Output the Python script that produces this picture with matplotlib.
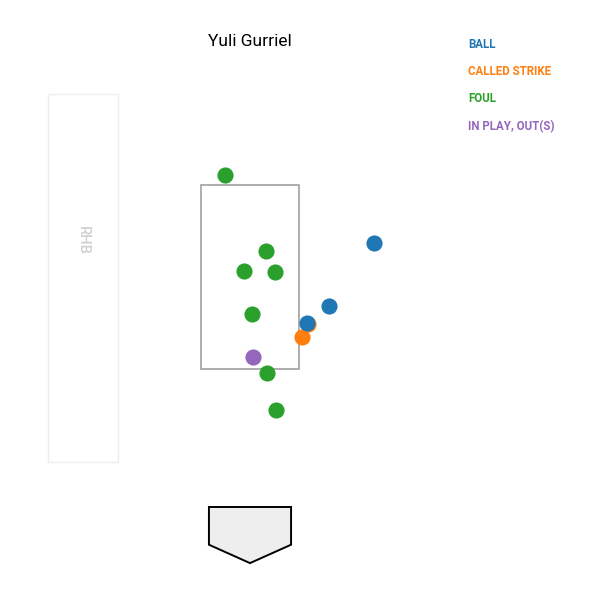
import matplotlib
matplotlib.use("Agg")
import matplotlib.pyplot as plt
from matplotlib.patches import Rectangle, Polygon

plt.rcParams['font.family'] = ['Roboto', 'DejaVu Sans']

batter = "Yuli Gurriel"
stand = "RHB"

# pitch locations (feet): plate_x, plate_z
descriptions = ["BALL", "CALLED STRIKE", "FOUL", "IN PLAY, OUT(S)"]
colors = ["#1f77b4", "#ff7f0e", "#2ca02c", "#9467bd"]

ball_x = [2.14, 1.36, 0.98]
ball_z = [2.87, 2.19, 2.00]
strike_x = [1.00, 0.90]
strike_z = [1.99, 1.85]
foul_x = [-0.43, 0.27, -0.10, 0.43, 0.03, 0.30, 0.44]
foul_z = [3.61, 2.78, 2.56, 2.55, 2.10, 1.46, 1.05]
inplay_x = [0.05]
inplay_z = [1.63]

sz_top, sz_bot = 3.5, 1.5

fig = plt.figure(figsize=(6, 6), dpi=100)
ax = fig.add_axes([0, 0, 1, 1])
ax.set_xlim(-4.31, 6.034)
ax.set_ylim(-1.011, 5.511)
ax.axis("off")

# batter's box
ax.add_patch(Rectangle((-3.483, 0.489), 1.207, 4.0, fill=False,
                       edgecolor="#eeeeee", lw=1))
ax.text(-2.88, 2.9, stand, rotation=-90, ha="center", va="center",
        fontsize=10.5, color="#d0d0d0", fontweight="medium")

# strike zone
ax.add_patch(Rectangle((-0.838, sz_bot), 1.676, sz_top - sz_bot, fill=False,
                       edgecolor="#999999", lw=1.1, zorder=1))

# home plate
ax.add_patch(Polygon([(-0.708, 0.0), (0.708, 0.0), (0.708, -0.41),
                      (0.0, -0.61), (-0.708, -0.41)], closed=True,
                     facecolor="#eeeeee", edgecolor="black", lw=1.4))

ms = 135
ax.scatter(strike_x, strike_z, s=ms, color=colors[1], zorder=3, lw=0)
ax.scatter(ball_x, ball_z, s=ms, color=colors[0], zorder=4, lw=0)
ax.scatter(foul_x, foul_z, s=ms, color=colors[2], zorder=3, lw=0)
ax.scatter(inplay_x, inplay_z, s=ms, color=colors[3], zorder=3, lw=0)

fig.text(250 / 600, 1 - 42 / 600, batter, ha="center", va="center",
         fontsize=12.5, color="black")

for i, (d, c) in enumerate(zip(descriptions, colors)):
    fig.text(468 / 600, 1 - (44 + i * 27.5) / 600, d, ha="left", va="center",
             fontsize=8.3, color=c, fontweight="bold")

fig.savefig("out.png", dpi=100)
